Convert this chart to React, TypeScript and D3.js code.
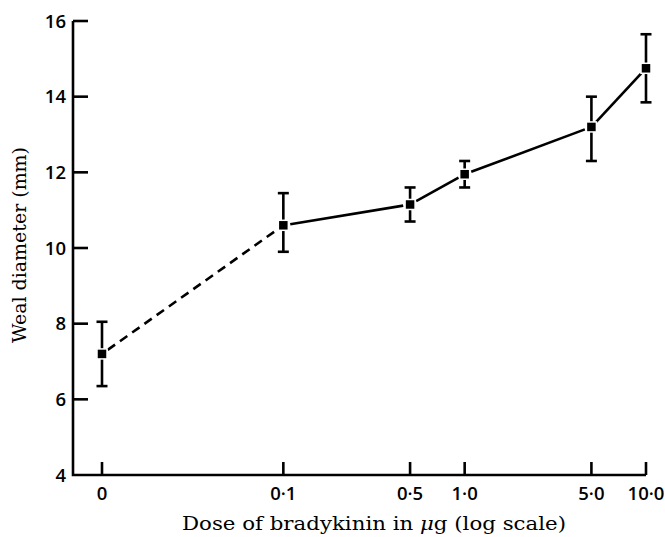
import React from "react";
import * as d3 from "d3";

const doses = [0, 0.1, 0.5, 1.0, 5.0, 10.0];
const doseLabels = ["0", "0·1", "0·5", "1·0", "5·0", "10·0"];
const means = [7.2, 10.6, 11.15, 11.95, 13.2, 14.75];
const lowers = [6.35, 9.9, 10.7, 11.6, 12.3, 13.85];
const uppers = [8.05, 11.45, 11.6, 12.3, 14.0, 15.65];
const yTicks = [4, 6, 8, 10, 12, 14, 16];
const ZERO_AS = 0.01; // where dose 0 sits on the log axis

const W = 665;
const H = 537;

export default function App() {
  const x = d3.scaleLog().domain([0.01, 10]).range([102, 646]);
  const y = d3.scaleLinear().domain([4, 16]).range([475, 21]);
  const px = (d: number) => x(d === 0 ? ZERO_AS : d);

  const axisLeft = 73;
  const axisBottom = y(4);
  const axisRight = px(10);
  const sw = 2.6;

  const pts = doses.map((d, i) => ({ x: px(d), y: y(means[i]), i }));
  const segments = pts.slice(1).map((p, k) => ({ a: pts[k], b: p, dashed: k === 0 }));

  const shorten = 7;
  const serif = "'DejaVu Serif', 'Liberation Serif', serif";
  const sans = "'Open Sans', 'Liberation Sans', Arial, sans-serif";

  return (
    <svg
      width={W}
      height={H}
      style={{ position: "absolute", left: 0, top: 0, background: "#fff" }}
    >
      <rect x={0} y={0} width={W} height={H} fill="#fff" />
      {/* axes */}
      <path
        d={`M${axisLeft},${y(16)} L${axisLeft},${axisBottom} L${axisRight},${axisBottom}`}
        fill="none"
        stroke="#000"
        strokeWidth={sw}
        strokeLinejoin="miter"
      />
      {/* y ticks */}
      {yTicks.map((t) => (
        <g key={"yt" + t}>
          {t !== 4 && (
            <line x1={axisLeft} x2={axisLeft + 15} y1={y(t)} y2={y(t)} stroke="#000" strokeWidth={sw} />
          )}
          <text
            x={axisLeft - 7}
            y={y(t)}
            dy="0.36em"
            textAnchor="end"
            fontFamily={sans}
            fontWeight={600}
            fontSize={18.5}
            fill="#000"
          >
            {t}
          </text>
        </g>
      ))}
      {/* x ticks */}
      {doses.map((d, i) => (
        <g key={"xt" + i}>
          <line x1={px(d)} x2={px(d)} y1={axisBottom} y2={axisBottom - 13} stroke="#000" strokeWidth={sw} />
          <text
            x={px(d)}
            y={axisBottom + 18}
            dy="0.36em"
            textAnchor="middle"
            fontFamily={sans}
            fontWeight={600}
            fontSize={18.5}
            fill="#000"
          >
            {doseLabels[i]}
          </text>
        </g>
      ))}
      {/* axis titles */}
      <text
        x={374}
        y={530}
        textAnchor="middle"
        fontFamily={serif}
        fontSize={19}
        textLength={384}
        lengthAdjust="spacingAndGlyphs"
        fill="#000"
      >
        Dose of bradykinin in <tspan fontStyle="italic">μ</tspan>g (log scale)
      </text>
      <text
        transform={`translate(26,${245}) rotate(-90)`}
        textAnchor="middle"
        fontFamily={serif}
        fontSize={19}
        textLength={196}
        lengthAdjust="spacingAndGlyphs"
        fill="#000"
      >
        Weal diameter (mm)
      </text>
      {/* connecting lines */}
      {segments.map((s, k) => {
        const dx = s.b.x - s.a.x;
        const dy = s.b.y - s.a.y;
        const len = Math.hypot(dx, dy);
        const ux = dx / len;
        const uy = dy / len;
        return (
          <line
            key={"seg" + k}
            x1={s.a.x + ux * shorten}
            y1={s.a.y + uy * shorten}
            x2={s.b.x - ux * shorten}
            y2={s.b.y - uy * shorten}
            stroke="#000"
            strokeWidth={sw}
            strokeDasharray={s.dashed ? "9,6" : undefined}
          />
        );
      })}
      {/* error bars */}
      {pts.map((p) => (
        <g key={"eb" + p.i}>
          <line x1={p.x} x2={p.x} y1={y(lowers[p.i])} y2={y(uppers[p.i])} stroke="#000" strokeWidth={sw} />
          <line x1={p.x - 5.5} x2={p.x + 5.5} y1={y(lowers[p.i])} y2={y(lowers[p.i])} stroke="#000" strokeWidth={sw} />
          <line x1={p.x - 5.5} x2={p.x + 5.5} y1={y(uppers[p.i])} y2={y(uppers[p.i])} stroke="#000" strokeWidth={sw} />
        </g>
      ))}
      {/* markers */}
      {pts.map((p) => (
        <rect
          key={"m" + p.i}
          x={p.x - 5}
          y={p.y - 5}
          width={10}
          height={10}
          fill="#000"
          stroke="#fff"
          strokeWidth={1.5}
        />
      ))}
    </svg>
  );
}
